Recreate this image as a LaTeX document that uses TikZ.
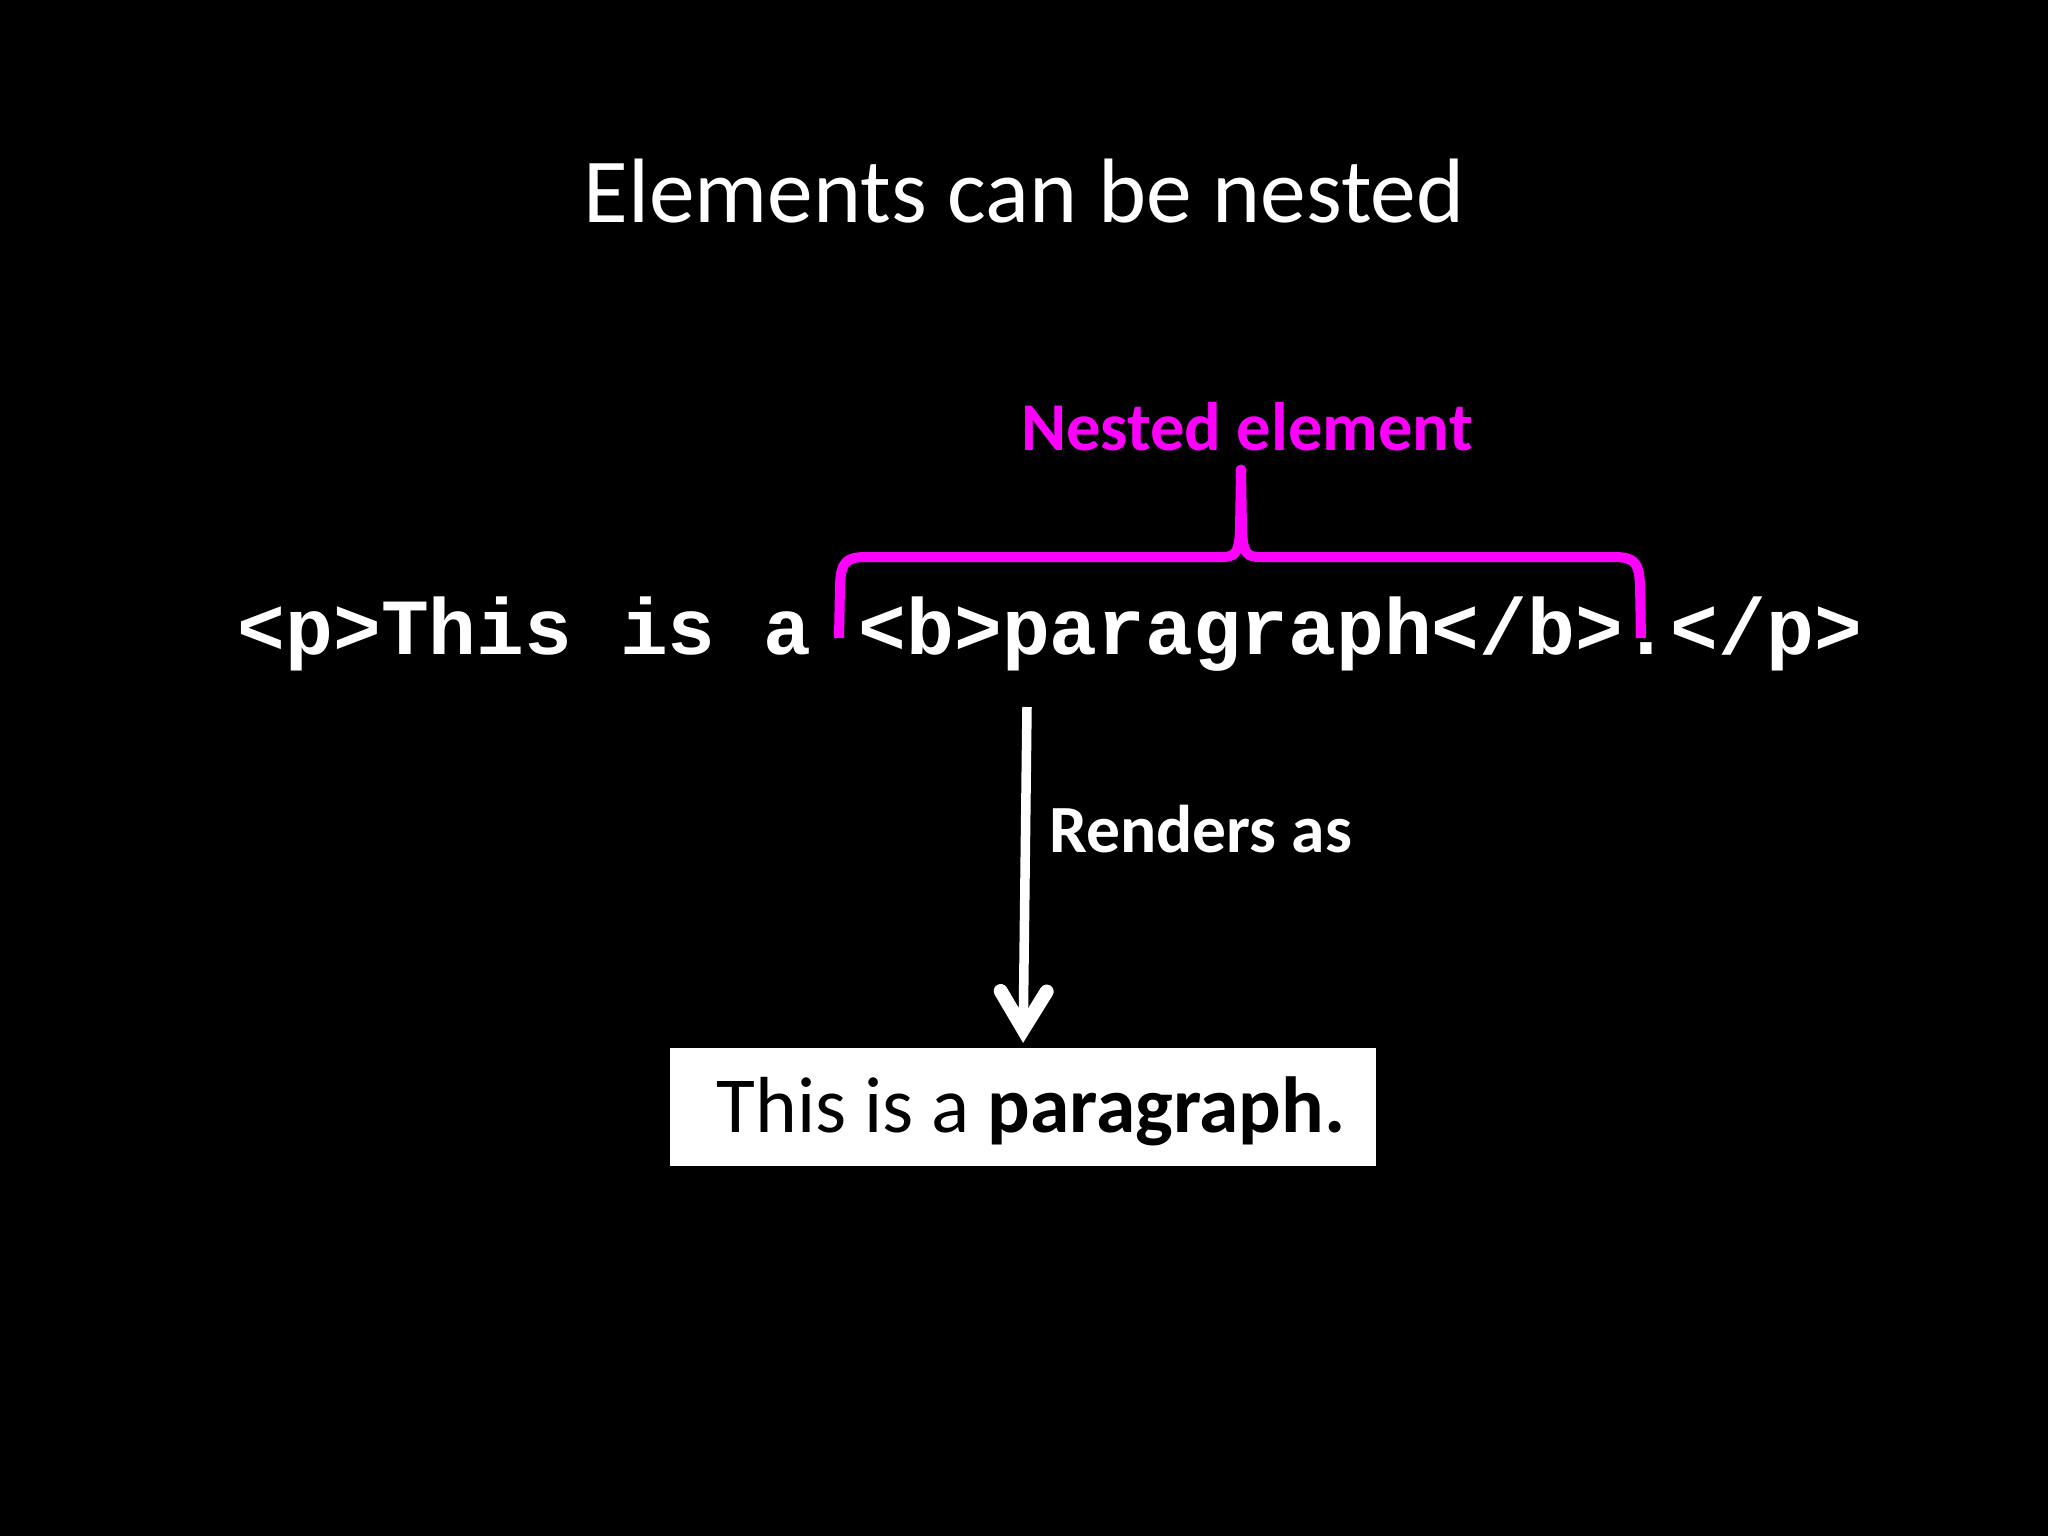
\documentclass[tikz,border=0pt]{standalone}
\usepackage{fontspec}
\setmainfont{Carlito}
\newfontfamily\codefont{Liberation Mono}
\usetikzlibrary{arrows.meta}
\definecolor{mag}{RGB}{255,0,255}
\tikzset{
  titlestyle/.style={text=white, inner sep=0pt, font=\fontsize{91.5}{110}\selectfont},
  codestyle/.style={text=white, inner sep=0pt, font=\codefont\bfseries\fontsize{79.6}{96}\selectfont},
  labelmag/.style={text=mag, inner sep=0pt, font=\bfseries\fontsize{68.5}{80}\selectfont},
  labelwhite/.style={text=white, inner sep=0pt, font=\bfseries\fontsize{67.5}{80}\selectfont},
  bracestyle/.style={draw=mag, line width=10pt, line join=round},
  arrowstyle/.style={draw=white, line width=9.5pt, -{Straight Barb[length=38pt,width=46pt,line width=14pt,line cap=round]}},
  outbox/.style={fill=white, text=black, inner sep=0pt, minimum width=706pt, minimum height=118pt,
    text height=50pt, text depth=0pt, font=\fontsize{79.5}{94}\selectfont}
}
\begin{document}
\begin{tikzpicture}[x=1pt,y=-1pt]
\fill[black] (0,0) rectangle (2048,1536);
\useasboundingbox (0,0) rectangle (2048,1536);

\node[titlestyle, anchor=base] (title) at (1024,222) {Elements can be nested};

\node[codestyle, anchor=base] (code) at (1050,654) {<p>This is a <b>paragraph</b>.</p>};

\node[labelmag, anchor=base] (nested) at (1247,450) {Nested element};

% brace
\coordinate (bl) at (839,638);
\coordinate (br) at (1641,638);
\coordinate (bt) at (1241,470);
\draw[bracestyle] (bl) -- (840,585) .. controls (841,562) and (846,557) .. (866,557)
  -- (1222,557) .. controls (1236,557) and (1239,552) .. (1240,530) -- (bt);
\draw[bracestyle] (br) -- (1640,585) .. controls (1639,562) and (1634,557) .. (1614,557)
  -- (1260,557) .. controls (1246,557) and (1243,552) .. (1242,530) -- (bt);
\fill[mag] (bt) circle (5.5pt);

% output box
\node[outbox] (box) at (1023,1107) {\hspace*{16pt}This is a \textbf{paragraph.}};

% arrow
\coordinate (atop) at (1027,707);
\draw[arrowstyle, shorten >=5pt] (atop) -- (box.north);

\node[labelwhite, anchor=base west] (renders) at (1049,852) {Renders as};
\end{tikzpicture}
\end{document}
